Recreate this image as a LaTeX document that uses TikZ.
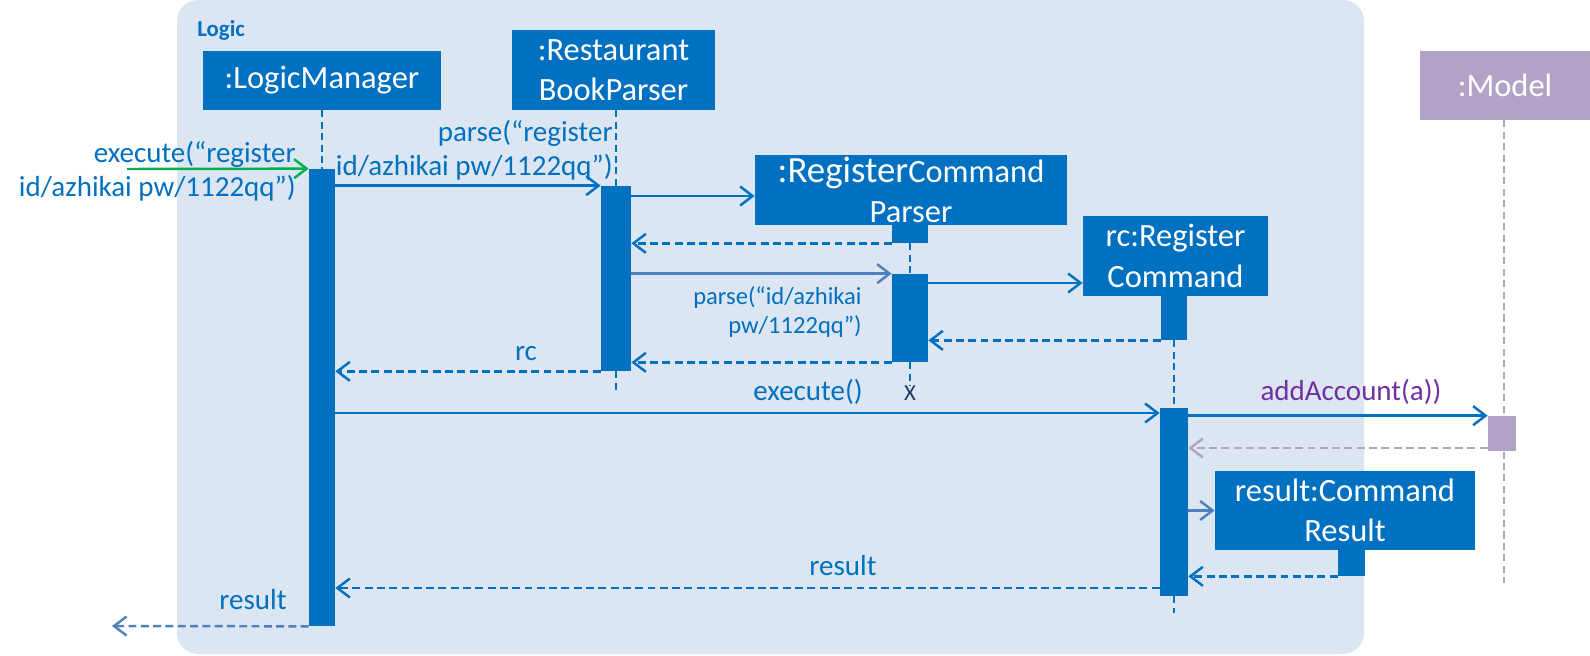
\documentclass[tikz,border=0pt]{standalone}
\usepackage{fontspec}
\setmainfont{Carlito}
\usepackage{tikz}
\usetikzlibrary{positioning, arrows.meta, fit, calc}
\definecolor{boxblue}{HTML}{0070C0}
\definecolor{logicbg}{HTML}{DCE6F2}
\definecolor{softblue}{HTML}{4F81BD}
\definecolor{callgreen}{HTML}{00B050}
\definecolor{modelpurple}{HTML}{B3A2C7}
\definecolor{txtpurple}{HTML}{7030A0}
\definecolor{navy}{HTML}{203864}
\tikzset{
  objbox/.style={fill=boxblue, text=white, align=center, inner sep=0pt,
                 font=\fontsize{18.5}{23}\selectfont},
  actbar/.style={fill=boxblue, inner sep=0pt},
  lifeline/.style={draw=boxblue, line width=1.1pt, dash pattern=on 4pt off 2.5pt},
  call/.style={-{Straight Barb[length=2.5mm, width=3.8mm]}, line width=1.4pt, draw=boxblue},
  reply/.style={call, dash pattern=on 4.5pt off 2.5pt},
  lbl/.style={text=boxblue, font=\fontsize{16.5}{19.5}\selectfont, inner sep=0pt},
}

\begin{document}
\begin{tikzpicture}[x=0.02cm, y=-0.02cm]
  \useasboundingbox (0,0) rectangle (1590,656);
  % the Logic frame
  \fill[logicbg, rounded corners=12pt] (177,0) rectangle (1364,654);
  \node[anchor=west, text=boxblue, inner sep=0pt,
        font=\bfseries\fontsize{13}{15}\selectfont] (logicLbl) at (197,30) {Logic};
  % objects
  \node[objbox, minimum width=4.76cm, minimum height=1.18cm] (lm) at (322,80.5) {:LogicManager};
  \node[objbox, minimum width=4.06cm, minimum height=1.6cm] (rbp) at (613.5,70) {:Restaurant\\BookParser};
  \node[objbox, minimum width=6.24cm, minimum height=1.4cm] (rcp) at (911,190)
    {{\fontsize{21}{23}\selectfont :Register}Command\\Parser};
  \node[objbox, minimum width=3.7cm, minimum height=1.6cm] (rc) at (1175.5,256) {rc:Register\\Command};
  \node[objbox, minimum width=5.2cm, minimum height=1.58cm] (res) at (1345,510.5) {result:Command\\Result};
  \node[objbox, fill=modelpurple, minimum width=3.4cm, minimum height=1.38cm] (model) at (1505,85.5) {:Model};
  % activations
  \node[actbar, fit={(309,169) (335,626)}] (lmAct) {};
  \node[actbar, fit={(601,186) (631,371)}] (rbpAct) {};
  \node[actbar, fit={(892,225) (928,243)}] (rcpHead) {};
  \node[actbar, fit={(892,274) (928,362)}] (rcpAct) {};
  \node[actbar, fit={(1161,296) (1187,340)}] (rcHead) {};
  \node[actbar, fit={(1160,408) (1188,596)}] (rcAct) {};
  \node[actbar, fit={(1338,550) (1365,576)}] (resHead) {};
  \node[actbar, fill=modelpurple, fit={(1488,416) (1516,451)}] (modelAct) {};
  % ends
  \coordinate (rbpEnd) at (616,390);
  \coordinate (rcEnd) at (1174,613);
  \coordinate (modelEnd) at (1504,583);
  \coordinate (extIn) at (127,169);
  \coordinate (extOut) at (112,626);
  \node[text=navy, inner sep=0pt, font=\fontsize{13}{15}\selectfont] (rcpX) at (910,393) {X};
  % lifelines
  \draw[lifeline] (lm.south) -- (lmAct.north);
  \draw[lifeline] (rbpAct.north |- rbp.south) -- (rbpAct.north);
  \draw[lifeline] (rbpAct.south) -- (rbpEnd);
  \draw[lifeline] (rcpHead.south) -- (rcpAct.north);
  \draw[lifeline] (rcpAct.south) -- (rcpX.north);
  \draw[lifeline] (rcHead.south) -- (rcAct.north);
  \draw[lifeline] (rcAct.south) -- (rcEnd);
  \draw[lifeline, draw=modelpurple] (modelEnd |- model.south) -- (modelEnd);
  % messages
  \draw[call, draw=callgreen] (extIn) -- (lmAct.north west);
  \node[lbl, align=right, anchor=east] (execLbl) at (296,171)
    {execute(“register\\id/azhikai pw/1122qq”)};
  \draw[call] (lmAct.east |- rbpAct.north) -- (rbpAct.north west);
  \node[lbl, align=right, anchor=east] (parseLbl) at (613,150)
    {parse(“register\\id/azhikai pw/1122qq”)};
  \draw[call] (rbpAct.east |- 0,196) -- (rcp.west |- 0,196);
  \draw[reply] (rcpHead.south west) -- (rbpAct.east |- rcpHead.south);
  \draw[call, draw=softblue] (rbpAct.east |- rcpAct.north) -- (rcpAct.north west);
  \node[lbl, align=right, anchor=east, font=\fontsize{14}{17}\selectfont] (parse2Lbl)
    at (862,312) {parse(“id/azhikai\\pw/1122qq”)};
  \draw[call] (rcpAct.east |- 0,283) -- (rc.west |- 0,283);
  \draw[reply] (rcHead.south west) -- (rcpAct.east |- rcHead.south);
  \draw[reply] (rcpAct.south west) -- (rbpAct.east |- rcpAct.south);
  \draw[reply] (rbpAct.south west) -- (lmAct.east |- rbpAct.south);
  \node[lbl] (rcLbl) at (526,354) {rc};
  \draw[call] (lmAct.east |- 0,413) -- (rcAct.west |- 0,413);
  \node[lbl] (execRcLbl) at (808,392) {execute()};
  \draw[call] (rcAct.east |- modelAct.north) -- (modelAct.north west);
  \node[lbl, text=txtpurple] (addLbl) at (1351,392) {addAccount(a))};
  \draw[reply, draw=modelpurple] (modelAct.west |- 0,448) -- (rcAct.east |- 0,448);
  \draw[call, draw=softblue] (rcAct.east |- res.west) -- (res.west);
  \draw[reply] (resHead.south west) -- (rcAct.east |- resHead.south);
  \draw[reply] (rcAct.west |- 0,588) -- (lmAct.east |- 0,588);
  \node[lbl] (resLbl) at (843,566) {result};
  \draw[reply, draw=softblue] (lmAct.south west) -- (extOut);
  \node[lbl] (resOutLbl) at (253,600) {result};
\end{tikzpicture}
\end{document}
